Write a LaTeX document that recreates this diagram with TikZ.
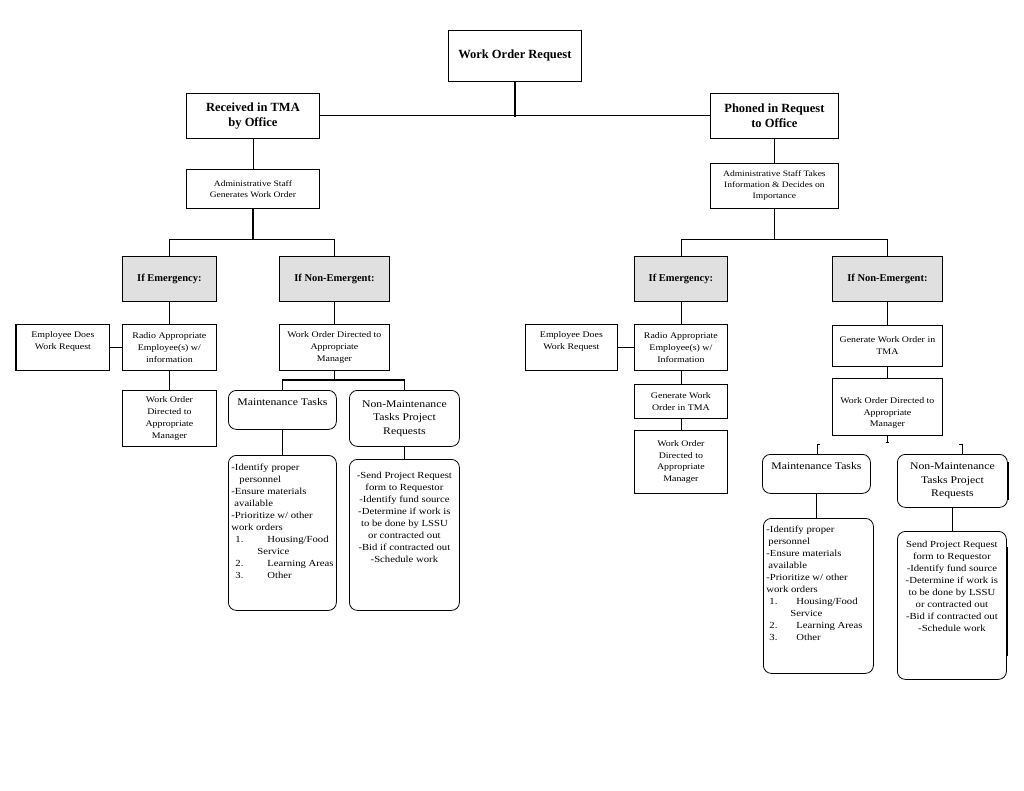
\documentclass[tikz,border=0pt]{standalone}
\usepackage{fontspec}
\setmainfont{Liberation Serif}
\newfontfamily\wrm{Liberation Serif}[FakeStretch=1.15]
\newcommand\FntTitle{\fontsize{12.5}{15}\selectfont\bfseries}
\newcommand\FntTop{\fontsize{12.5}{15}\selectfont\bfseries}
\newcommand\FntHead{\fontsize{10.5}{14}\selectfont\bfseries}
\newcommand\FntSmall{\wrm\fontsize{8.6}{11.8}\selectfont}
\newcommand\FntTiny{\wrm\fontsize{8.3}{11}\selectfont}
\newcommand\FntList{\wrm\fontsize{9.3}{12}\selectfont}
\newcommand\FntMid{\wrm\fontsize{10.2}{13.5}\selectfont}
\tikzset{
  bx/.style={draw, line width=0.8pt, inner sep=0pt, anchor=north west, align=center, font=\FntSmall},
  grayhead/.style={fill=black!12, font=\FntHead},
  rbox/.style={rounded corners=8pt},
  cn/.style={line width=0.8pt},
  cnthick/.style={line width=1.8pt},
  edgethick/.style={line width=1.8pt},
}
\newcommand\Bx[7][]{\node[bx,#1,minimum width={#5pt-#3pt},minimum height={#6pt-#4pt}] (#2) at (#3,#4) {#7};}
\newcommand\Tx[7][]{\node[bx,#1] (#2) at (#3,#4) {\parbox[c][\dimexpr#6pt-#4pt\relax][t]{\dimexpr#5pt-#3pt\relax}{#7}};}
\begin{document}
\begin{tikzpicture}[x=1pt,y=-1pt]
\useasboundingbox[fill=white] (0,0) rectangle (1024,791);
% top level
\Bx[font=\FntTitle]{wor}{448}{30}{581}{81}{\raisebox{-2pt}{Work Order Request}}
\Bx[font=\FntTop]{rec}{186}{93}{319}{138}{Received in TMA\\by Office}
\Bx[font=\FntTop]{pho}{710}{93}{838}{138}{Phoned in Request\\to Office}
\Bx[font=\FntTiny]{adm1}{186}{169}{319}{208}{Administrative Staff\\Generates Work Order}
\Bx[font=\FntTiny]{adm2}{710}{163}{838}{208}{Administrative Staff Takes\\Information \& Decides on\\Importance}
% emergency heads
\Bx[grayhead]{em1}{122}{256}{216}{301}{If Emergency:}
\Bx[grayhead]{ne1}{279}{256}{389}{301}{If Non-Emergent:}
\Bx[grayhead]{em2}{634}{256}{727}{301}{If Emergency:}
\Bx[grayhead]{ne2}{832}{256}{942}{301}{If Non-Emergent:}
% left side
\Bx{emp1}{16}{324}{109}{370}{Employee Does\\Work Request\\[2pt]}
\Bx{rad1}{122}{324}{216}{370}{Radio Appropriate\\Employee(s) w/\\information}
\Bx{wod1}{122}{390}{216}{446}{Work Order\\Directed to\\Appropriate\\Manager}
\Bx{wd1}{279}{324}{389}{370}{Work Order Directed to\\Appropriate\\Manager}
\Tx[rbox,font=\FntMid]{mt1}{228}{390}{336}{429}{\centering\vspace*{8.5pt}Maintenance Tasks}
\Bx[rbox,font=\FntMid]{nm1}{349}{390}{459}{446}{Non-Maintenance\\Tasks Project\\Requests}
\Tx[rbox,font=\FntList]{ml1}{228}{455}{336}{610}{\raggedright\leftskip=3pt\vspace*{9pt}%
-Identify proper\\\hspace*{8pt}personnel\\-Ensure materials\\\hspace*{3pt}available\\-Prioritize w/ other\\work orders\\
\hspace*{4pt}\makebox[32pt][l]{1.}Housing/Food\\\hspace*{26pt}Service\\
\hspace*{4pt}\makebox[32pt][l]{2.}Learning Areas\\\hspace*{4pt}\makebox[32pt][l]{3.}Other}
\Tx[rbox,font=\FntList]{nl1}{349}{459}{459}{610}{\centering\vspace*{13pt}%
-Send Project Request\\form to Requestor\\-Identify fund source\\-Determine if work is\\to be done by LSSU\\or contracted out\\-Bid if contracted out\\-Schedule work}
% right side
\Bx{emp2}{525}{324}{617}{370}{Employee Does\\Work Request\\[2pt]}
\Bx{rad2}{634}{324}{727}{370}{Radio Appropriate\\Employee(s) w/\\Information}
\Bx{gen2}{634}{384}{727}{418}{Generate Work\\Order in TMA}
\Bx{wod2}{634}{430}{727}{493}{Work Order\\Directed to\\Appropriate\\Manager}
\Bx{gen3}{832}{325}{942}{366}{Generate Work Order in\\TMA}
\Tx{wd2}{832}{378}{942}{435}{\centering\vspace*{19pt}Work Order Directed to\\Appropriate\\Manager}
\Tx[rbox,font=\FntMid]{mt2}{762}{454}{870}{493}{\centering\vspace*{8.5pt}Maintenance Tasks}
\Bx[rbox,font=\FntMid]{nm2}{897}{454}{1007}{507}{Non-Maintenance\\Tasks Project\\Requests}
\Tx[rbox,font=\FntList]{ml2}{763}{518}{873}{673}{\raggedright\leftskip=3pt\vspace*{8pt}%
-Identify proper\\\hspace*{2pt}personnel\\-Ensure materials\\\hspace*{2pt}available\\-Prioritize w/ other\\work orders\\
\hspace*{3pt}\makebox[27pt][l]{1.}Housing/Food\\\hspace*{24pt}Service\\
\hspace*{3pt}\makebox[27pt][l]{2.}Learning Areas\\\hspace*{3pt}\makebox[27pt][l]{3.}Other}
\Tx[rbox,font=\FntList]{nl2}{897}{531}{1006}{679}{\centering\vspace*{10pt}%
Send Project Request\\form to Requestor\\-Identify fund source\\-Determine if work is\\to be done by LSSU\\or contracted out\\-Bid if contracted out\\-Schedule work}
% heavier edges seen in the reference
\draw[edgethick] (emp1.north west) -- (emp1.south west);
\draw[edgethick] ([yshift=-8pt]nm2.north east) -- ([yshift=8pt]nm2.south east);
\draw[edgethick] ([yshift=-16pt]nl2.north east) -- ([yshift=24pt]nl2.south east);
% connectors top
\draw[cn] (wor.south) |- (rec.east);
\draw[cn] (wor.south) |- (pho.west);
\draw[line width=1.6pt] (wor.south) -- ++(0,35);
\draw[cn] (rec.south) -- (rec.south |- adm1.north);
\draw[cn] (pho.south) -- (pho.south |- adm2.north);
% left branch bar
\coordinate (j1) at (253,239);
\draw[cnthick] (adm1.south) -- (adm1.south |- j1);
\draw[cn] (j1) -| (em1.north);
\draw[cn] (j1) -| (ne1.north);
% right branch bar
\coordinate (j2) at (774,239);
\draw[cn] (adm2.south) -- (adm2.south |- j2);
\draw[cn] (j2) -| (em2.north);
\draw[cn] (j2) -| (ne2.north);
% left emergency
\draw[cn] (em1.south) -- (rad1.north);
\draw[cn] (rad1.south) -- (wod1.north);
\draw[cnthick] (emp1.east) -- (rad1.west);
% left non-emergent
\draw[cn] (ne1.south) -- (wd1.north);
\coordinate (j3) at (334,380);
\draw[cn] (wd1.south) -- (wd1.south |- j3);
\draw[cnthick] (j3) -| (mt1.north);
\draw[cnthick] (j3) -| (nm1.north);
\draw[cn] (mt1.south) -- (mt1.south |- ml1.north);
\draw[cn] (nm1.south) -- (nm1.south |- nl1.north);
% right emergency
\draw[cn] (em2.south) -- (rad2.north);
\draw[cn] (rad2.south) -- (rad2.south |- gen2.north);
\draw[cn] (gen2.south) -- (gen2.south |- wod2.north);
\draw[cnthick] (emp2.east) -- (rad2.west);
% right non-emergent
\draw[cn] (ne2.south) -- (ne2.south |- gen3.north);
\draw[cn] (gen3.south) -- (gen3.south |- wd2.north);
\coordinate (s0) at (887,442);
\draw[cn] (wd2.south) -- (wd2.south |- s0);
\draw[cn] (s0) ++(-1.5,0) -- ++(3,0);
\coordinate (s1) at (817,444);
\draw[cn] (s1) -- (s1 |- mt2.north);
\draw[cn] (s1) -- ++(3,0);
\coordinate (s2) at (962,444);
\draw[cn] (s2) -- (s2 |- nm2.north);
\draw[cn] (s2) -- ++(-3,0);
\draw[cn] (mt2.south) -- (mt2.south |- ml2.north);
\draw[cn] (nm2.south) -- (nm2.south |- nl2.north);
\end{tikzpicture}
\end{document}
